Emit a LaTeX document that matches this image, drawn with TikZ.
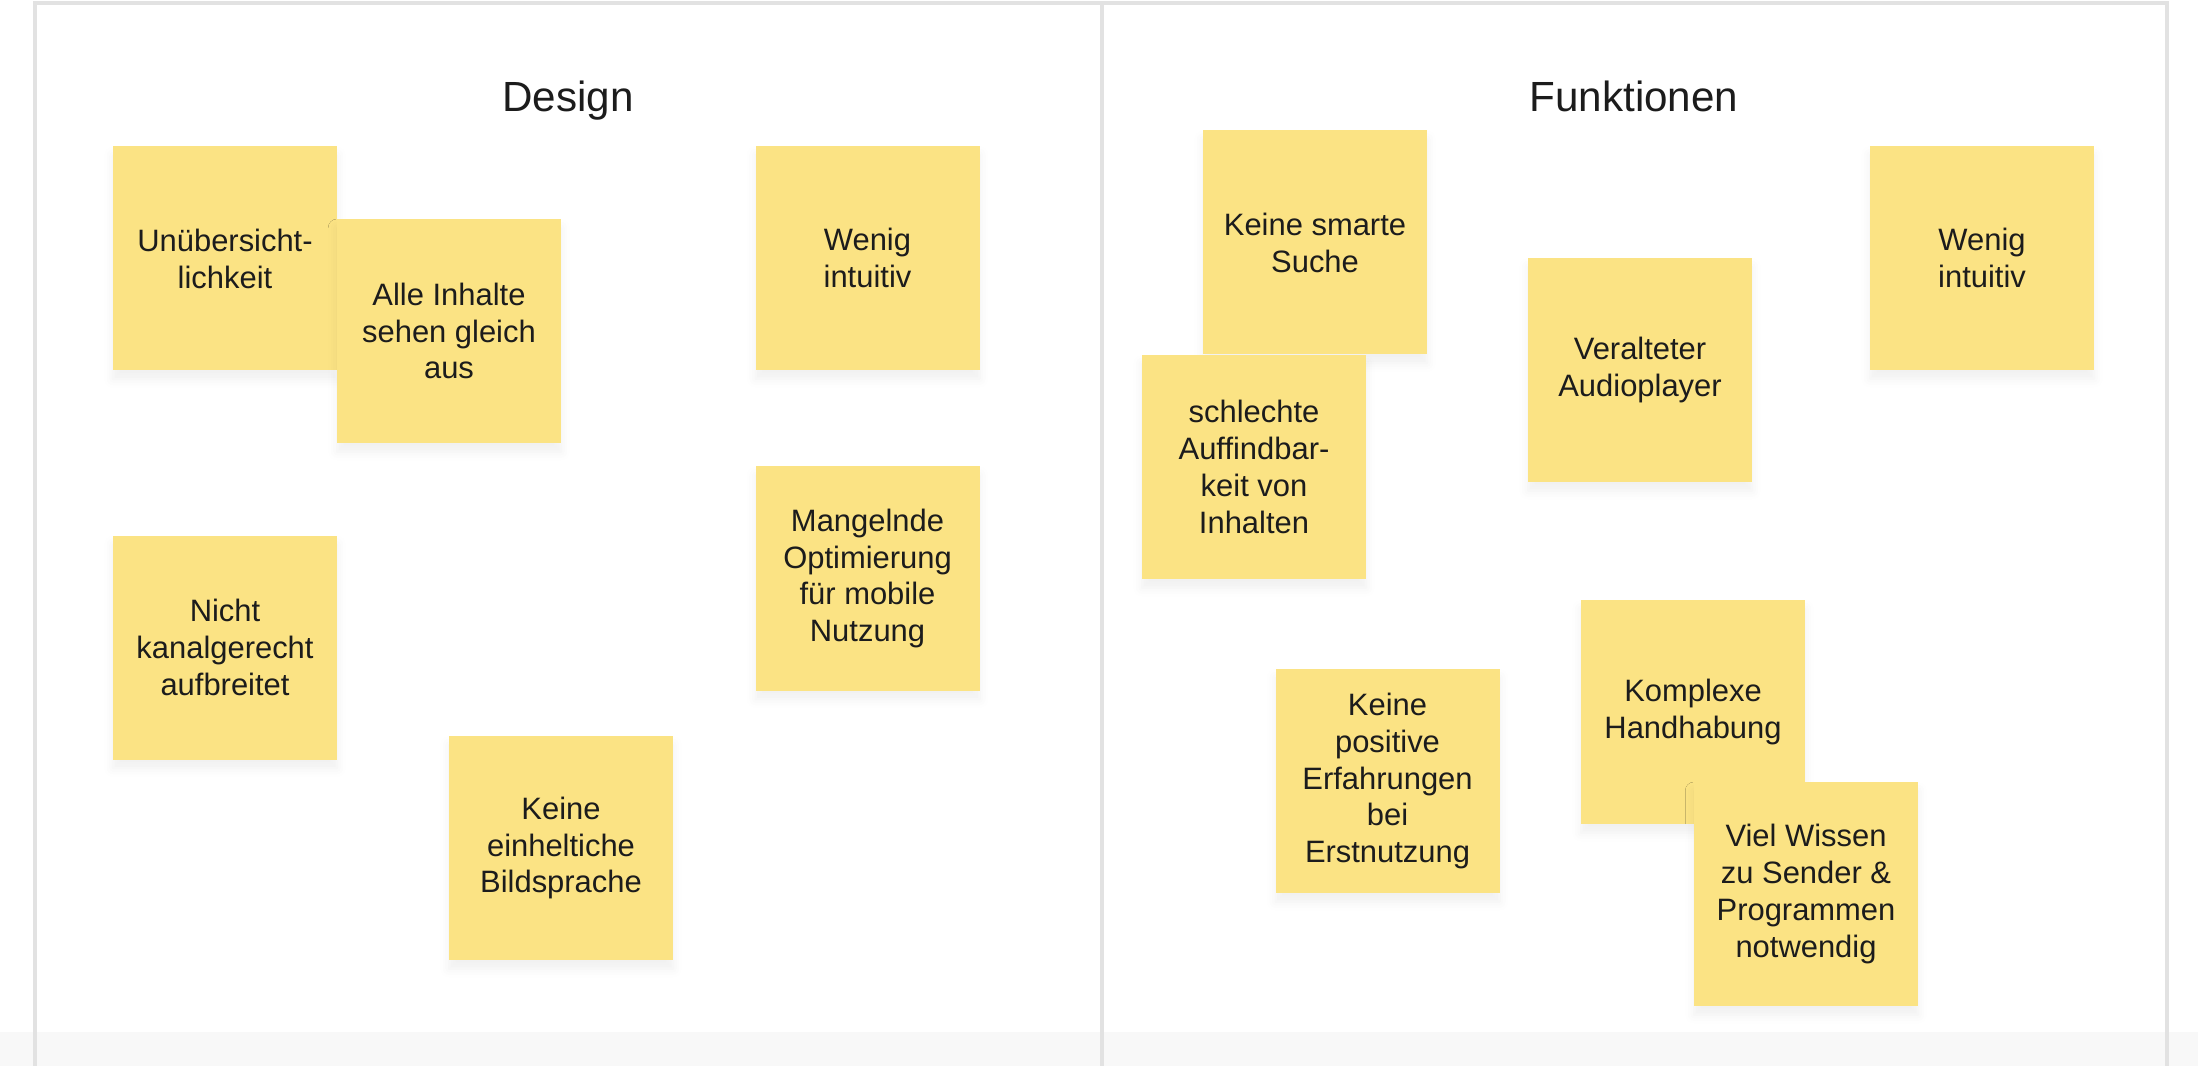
\documentclass[tikz,border=0pt]{standalone}
\usepackage{fontspec}
\setmainfont{Liberation Sans}
\usetikzlibrary{shadows.blur}
\definecolor{notefill}{HTML}{FBE384}
\definecolor{framegray}{HTML}{E2E2E2}
\definecolor{bandgray}{HTML}{F8F8F8}
\definecolor{notetext}{HTML}{1C1C1C}

\begin{document}
\begin{tikzpicture}[
    sticky/.style={rectangle, fill=notefill, minimum width=2.24cm, minimum height=2.24cm,
        inner sep=0pt, align=center, text=notetext, font=\fontsize{8.8}{10.5}\selectfont,
        blur shadow={shadow xshift=0pt, shadow yshift=-2.5pt, shadow blur radius=2.5pt, shadow opacity=6}},
    title/.style={text=notetext, anchor=base, font=\fontsize{12}{14}\selectfont}
]
    \useasboundingbox (0,0) rectangle (21.98,-10.66);

    % Board
    \fill[bandgray] (0,-10.32) rectangle (21.98,-10.66);
    \draw[framegray, line width=1.1pt] (0.35,-10.66) -- (0.35,-0.03) -- (21.67,-0.03) -- (21.67,-10.66);
    \draw[framegray, line width=1.1pt] (11.02,-0.03) -- (11.02,-10.66);

    % Column titles
    \node[title] (design) at (5.68,-1.12) {Design};
    \node[title] (funktionen) at (16.34,-1.12) {Funktionen};

    % Design
    \node[sticky] (uebersicht) at (2.25,-2.585) {Unübersicht-\\lichkeit};
    \node[sticky] (gleich) at (4.49,-3.31) {Alle Inhalte\\sehen gleich\\aus};
    \node[sticky] (intuitivA) at (8.675,-2.58) {Wenig\\intuitiv};
    \node[sticky] (kanal) at (2.25,-6.475) {Nicht\\kanalgerecht\\aufbreitet};
    \node[sticky] (mobil) at (8.675,-5.785) {Mangelnde\\Optimierung\\für mobile\\Nutzung};
    \node[sticky] (bild) at (5.61,-8.48) {Keine\\einheltiche\\Bildsprache};

    % Funktionen
    \node[sticky] (suche) at (13.15,-2.425) {Keine smarte\\Suche};
    \node[sticky] (auffind) at (12.54,-4.67) {schlechte\\Auffindbar-\\keit von\\Inhalten};
    \node[sticky] (intuitivB) at (19.82,-2.58) {Wenig\\intuitiv};
    \node[sticky] (player) at (16.40,-3.70) {Veralteter\\Audioplayer};
    \node[sticky] (erstnutz) at (13.875,-7.81) {Keine\\positive\\Erfahrungen\\bei\\Erstnutzung};
    \node[sticky] (komplex) at (16.93,-7.12) {Komplexe\\Handhabung};
    \node[sticky] (wissen) at (18.06,-8.94) {Viel Wissen\\zu Sender \&\\Programmen\\notwendig};
\end{tikzpicture}
\end{document}
